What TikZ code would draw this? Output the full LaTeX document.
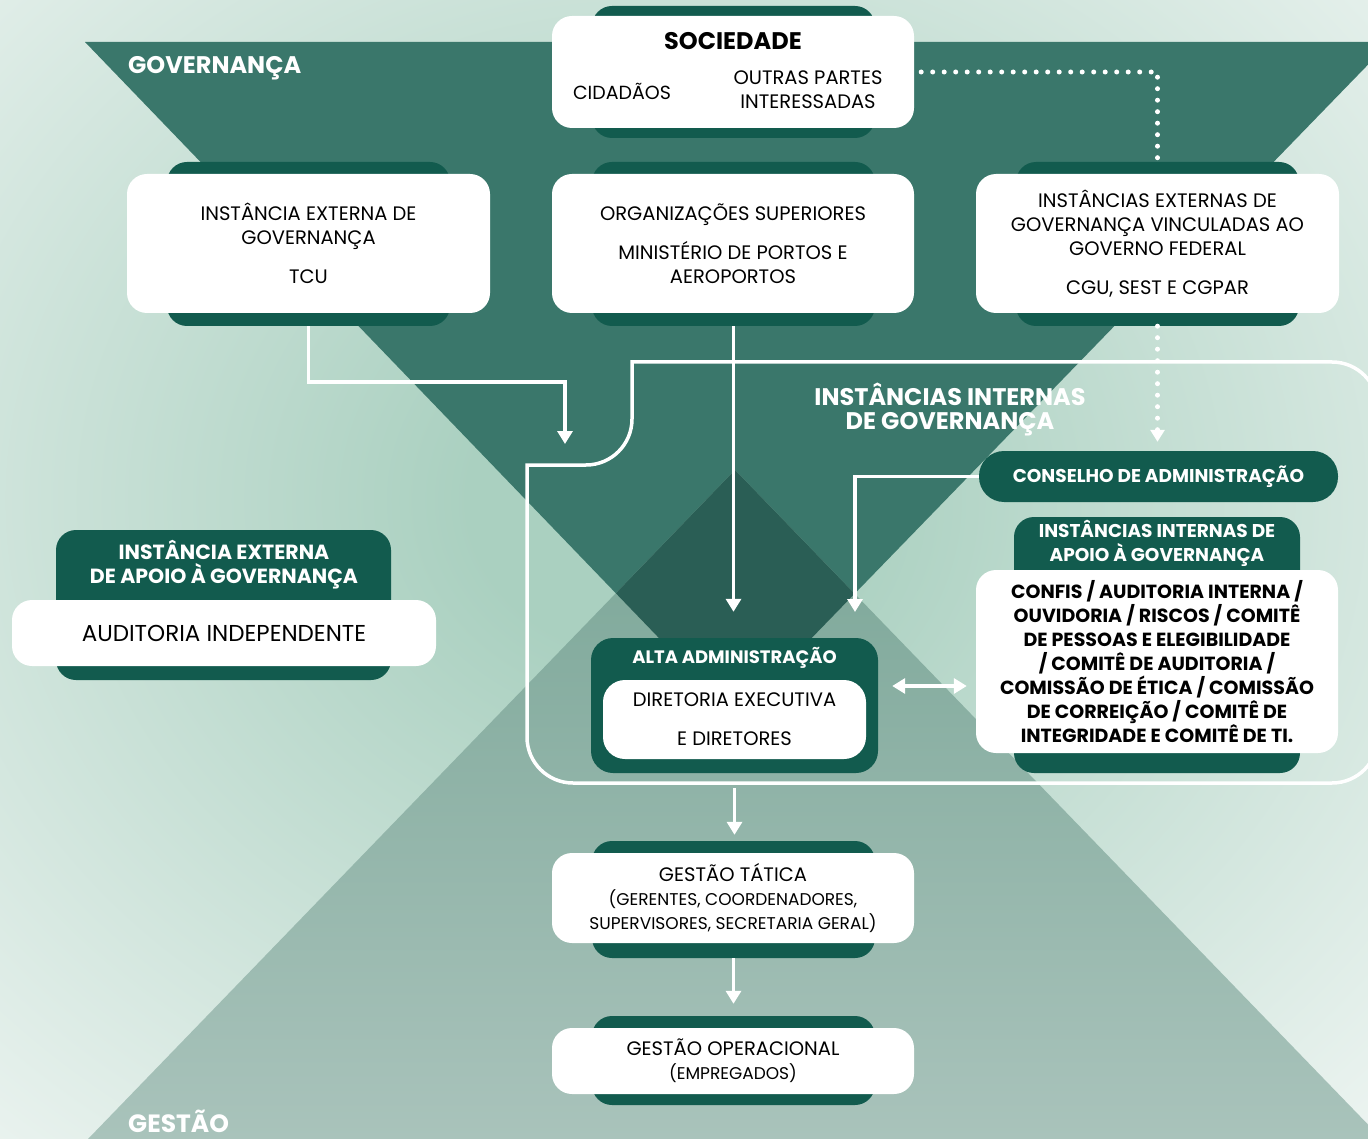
\documentclass[tikz,border=0pt]{standalone}
\usepackage{fontspec}
\setmainfont{Poppins}
\usetikzlibrary{arrows.meta}

\definecolor{bgmid}{HTML}{AAD0C0}
\definecolor{bglight}{HTML}{F2F7F5}
\definecolor{govgreen}{HTML}{3A776B}
\definecolor{overlapgreen}{HTML}{2A5E55}
\definecolor{gesttop}{HTML}{79A596}
\definecolor{gestbot}{HTML}{A9C3BB}
\definecolor{tabgreen}{HTML}{125B4E}

\pgfdeclareradialshading{bgglow}{\pgfpoint{0bp}{0bp}}{color(0bp)=(bgmid); color(6bp)=(bgmid); color(37bp)=(bglight); color(72bp)=(bglight)}

\tikzstyle{tabbox} = [rectangle, rounded corners=20pt, fill=tabgreen, inner sep=0pt]
\tikzstyle{whitebox} = [rectangle, rounded corners=20pt, fill=white, text=black, align=center, inner sep=0pt, font=\fontsize{19.5}{24}\selectfont]
\tikzstyle{header} = [text=white, align=center, font=\bfseries\fontsize{18.5}{24}\selectfont]
\tikzstyle{bigtitle} = [text=white, align=center, inner sep=0pt, font=\bfseries\fontsize{24}{24}\selectfont]
\tikzstyle{arrow} = [white, line width=3.5pt, -{Triangle[width=15pt,length=13pt]}]
\tikzstyle{dottedline} = [white, line width=5pt, line cap=round, dash pattern=on 0pt off 11.5pt]
\tikzstyle{innerline} = [white, line width=3.5pt]

\begin{document}
\begin{tikzpicture}[x=1pt, y=-1pt]

    \useasboundingbox (0,0) rectangle (1368,1139);
    \clip (0,0) rectangle (1368,1139);

    % background and the two triangles
    \shade[shading=bgglow] (-100,-140) rectangle (1400,1140);
    \fill[govgreen] (85,42) -- (1390,42) -- (735,717) -- cycle;
    \shade[top color=gesttop, bottom color=gestbot] (735,470) -- (1382,1139) -- (88,1139) -- cycle;
    \begin{scope}
        \clip (85,42) -- (1390,42) -- (735,717) -- cycle;
        \fill[overlapgreen] (735,470) -- (1382,1139) -- (88,1139) -- cycle;
    \end{scope}

    % frame of the internal instances
    \draw[innerline] (900,362) -- (632,362) [rounded corners=46pt] -- (632,465) [sharp corners] -- (527,465) [rounded corners=46pt] -- (527,783) -- (1378,783) -- (1378,362) -- (900,362);

    \node (gov_label) [bigtitle, anchor=west] at (128,68) {GOVERNANÇA};
    \node (gestao_label) [bigtitle, anchor=west, font=\bfseries\fontsize{25}{24}\selectfont] at (128,1121) {GESTÃO};
    \node (interna_label) [bigtitle] at (950,409) {INSTÂNCIAS INTERNAS\\DE GOVERNANÇA};

    % top row
    \node (sociedade_tab) [tabbox, minimum width=283pt, minimum height=132pt] at (733.5,72) {};
    \node (sociedade) [whitebox, minimum width=362pt, minimum height=112pt] at (733,72) {};
    \node (sociedade_title) [font=\bfseries\fontsize{24}{24}\selectfont] at (733,41) {SOCIEDADE};
    \node (cidadaos) [font=\fontsize{19}{24}\selectfont] at (622,91) {CIDADÃOS};
    \node (outras) [align=center, font=\fontsize{19.5}{24}\selectfont] at (808,90) {OUTRAS PARTES\\INTERESSADAS};

    \node (tcu_tab) [tabbox, minimum width=283pt, minimum height=164pt] at (308.5,244) {};
    \node (tcu) [whitebox, minimum width=363pt, minimum height=139pt] at (308.5,243.5) {INSTÂNCIA EXTERNA DE\\GOVERNANÇA\\[15pt]TCU};

    \node (org_tab) [tabbox, minimum width=283pt, minimum height=164pt] at (733.5,244) {};
    \node (org) [whitebox, minimum width=362pt, minimum height=139pt] at (733,243.5) {ORGANIZAÇÕES SUPERIORES\\[15pt]MINISTÉRIO DE PORTOS E\\AEROPORTOS};

    \node (vinc_tab) [tabbox, minimum width=283pt, minimum height=164pt] at (1157.5,244) {};
    \node (vinc) [whitebox, minimum width=363pt, minimum height=139pt] at (1157.5,243.5) {INSTÂNCIAS EXTERNAS DE\\GOVERNANÇA VINCULADAS AO\\GOVERNO FEDERAL\\[15pt]CGU, SEST E CGPAR};

    % internal instances
    \node (conselho) [tabbox, header, rounded corners=25pt, minimum width=359pt, minimum height=51pt] at (1158.5,476.5) {CONSELHO DE ADMINISTRAÇÃO};

    \node (apoio_tab) [tabbox, minimum width=286pt, minimum height=256pt] at (1157,645) {};
    \node (apoio_title) [header] at (1157,543) {INSTÂNCIAS INTERNAS DE\\APOIO À GOVERNANÇA};
    \node (apoio) [whitebox, minimum width=362pt, minimum height=183pt, font=\bfseries\fontsize{19}{24}\selectfont] at (1157,661.5) {CONFIS / AUDITORIA INTERNA /\\OUVIDORIA / RISCOS / COMITÊ\\DE PESSOAS E ELEGIBILIDADE\\/ COMITÊ DE AUDITORIA /\\COMISSÃO DE ÉTICA / COMISSÃO\\DE CORREIÇÃO / COMITÊ DE\\INTEGRIDADE E COMITÊ DE TI.};

    \node (alta) [tabbox, rounded corners=22pt, minimum width=287pt, minimum height=135pt] at (734.5,705.5) {};
    \node (alta_title) [header, font=\bfseries\fontsize{18}{24}\selectfont] at (734.5,658) {ALTA ADMINISTRAÇÃO};
    \node (diretoria) [whitebox, rounded corners=22pt, minimum width=263pt, minimum height=79pt] at (734.5,719.5) {DIRETORIA EXECUTIVA\\[15pt]E DIRETORES};

    % external support
    \node (apoio_ext_tab) [tabbox, minimum width=335pt, minimum height=150pt] at (223.5,605) {};
    \node (apoio_ext_title) [header, font=\bfseries\fontsize{20.5}{24}\selectfont] at (224,565) {INSTÂNCIA EXTERNA\\DE APOIO À GOVERNANÇA};
    \node (auditoria) [whitebox, minimum width=424pt, minimum height=66pt, font=\fontsize{23}{24}\selectfont] at (224,633) {AUDITORIA INDEPENDENTE};

    % management
    \node (tatica_tab) [tabbox, minimum width=283pt, minimum height=117pt] at (733.5,899.5) {};
    \node (tatica) [whitebox, minimum width=362pt, minimum height=90pt] at (733,898) {GESTÃO TÁTICA\\{\fontsize{17}{24}\selectfont (GERENTES, COORDENADORES,}\\{\fontsize{17}{24}\selectfont SUPERVISORES, SECRETARIA GERAL)}};

    \node (operacional_tab) [tabbox, minimum width=283pt, minimum height=89pt] at (733.5,1060.5) {};
    \node (operacional) [whitebox, minimum width=362pt, minimum height=66pt] at (733,1061) {GESTÃO OPERACIONAL\\{\fontsize{17}{24}\selectfont (EMPREGADOS)}};

    % connectors
    \coordinate (inner_entry) at (565,444);
    \coordinate (alta_entry) at (855,612);
    \coordinate (alta_side) at ([yshift=19.5pt]alta.east);

    \draw[arrow] (tcu_tab.south) -- ++(0,56) -| (inner_entry);
    \draw[arrow, shorten >=26pt] (org_tab.south) -- (org_tab.south |- alta.north);
    \draw[arrow] (conselho.west) -| (alta_entry);
    \draw[arrow, {Triangle[width=15pt,length=13pt]}-{Triangle[width=15pt,length=13pt]}, shorten <=14pt, shorten >=9pt] (alta_side) -- (alta_side -| apoio.west);
    \draw[arrow, shorten <=15pt, shorten >=6pt] (alta.south) -- (alta.south |- tatica_tab.north);
    \draw[arrow, shorten >=12pt] (tatica_tab.south) -- (operacional_tab.north);

    \draw[dottedline, shorten <=7pt] (sociedade.east) -| (vinc_tab.north);
    \draw[dottedline, -{Triangle[width=14pt,length=12pt]}, shorten >=9pt] (vinc_tab.south) -- (vinc_tab.south |- conselho.north);

\end{tikzpicture}
\end{document}
